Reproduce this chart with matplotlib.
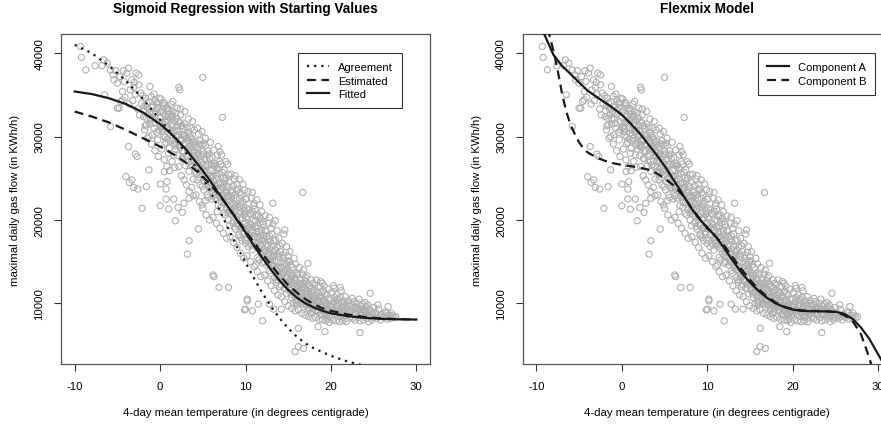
import matplotlib
matplotlib.use("Agg")
import matplotlib.pyplot as plt

plt.rcParams['font.family'] = ['Liberation Sans', 'DejaVu Sans']
plt.rcParams['axes.unicode_minus'] = False

# observed points: 4-day mean temperature vs maximal daily gas flow
temp = [
    -9.3, -9.2, -8.7, -7.6, -6.8, -6.6, -6.2, -5.8, -5.4, -5.0,
    -4.4, -3.7, -2.8, -3.3, -5.8, -3.7, -2.7, -4.0, -3.3, -2.6,
    -1.6, -1.3, -4.4, -5.0, -6.5, -3.6, -3.1, -2.9, -2.1, -4.8,
    -5.5, -4.7, -4.2, -3.9, -3.5, -3.1, -2.9, -2.5, -2.3, -2.2,
    -4.6, -4.1, -3.6, -3.2, -2.6, -2.4, -2.0, -1.8, -1.2, -1.6,
    -2.5, -3.0, -4.3, -5.2,
    -1.9, -1.7, -1.5, -1.4, -1.3, -1.2, -1.1, -1.0, -0.9, -0.8,
    -0.7, -0.6, -0.5, -0.4, -0.3, -0.2, -0.1, 0.0, -1.8, -1.5,
    -1.0, -0.6, -0.3, -0.9, -1.6, -0.2, -0.7, -1.3, -0.4, -0.8,
    0.1, 0.2, 0.3, 0.4, 0.5, 0.6, 0.7, 0.8, 0.9, 1.0,
    1.1, 1.2, 1.3, 1.4, 1.5, 1.6, 1.7, 1.8, 1.9, 2.0,
    0.2, 0.5, 0.8, 1.1, 1.4, 1.7, 0.3, 0.6, 0.9, 1.2,
    1.5, 1.8, 0.4, 1.0, 1.6, 0.7, 1.3, 1.9, 0.1, 1.0,
    0.5, 1.5, 2.0,
    0.0, 0.8, 0.7, 0.7, 1.0, 1.8, 2.1, 1.6, 2.6, 3.2,
    3.4, 4.5, 5.0, 2.2, 2.3, 7.3, 0.0, 6.2, 6.3, 6.9,
    8.0,
    2.1, 2.2, 2.3, 2.4, 2.5, 2.6, 2.7, 2.8, 2.9, 3.0,
    3.1, 3.2, 3.3, 3.4, 3.5, 3.6, 3.7, 3.8, 3.9, 4.0,
    2.2, 2.5, 2.8, 3.1, 3.4, 3.7, 2.4, 2.9, 3.3, 3.8,
    2.3, 2.7, 3.0, 3.5, 3.9, 2.6, 3.2, 3.6, 2.1, 4.0,
    3.4, 2.8, 3.9,
    4.1, 4.2, 4.3, 4.4, 4.5, 4.6, 4.7, 4.8, 4.9, 5.0,
    5.1, 5.2, 5.3, 5.4, 5.5, 5.6, 5.7, 5.8, 5.9, 6.0,
    4.2, 4.6, 5.0, 5.4, 5.8, 4.4, 4.9, 5.3, 5.9, 4.3,
    4.8, 5.2, 5.7, 4.5, 5.1, 5.6, 6.0, 4.7, 5.5, 4.1,
    5.0, 5.8, 4.9, 5.3, 4.4,
    6.1, 6.2, 6.3, 6.4, 6.5, 6.6, 6.7, 6.8, 6.9, 7.0,
    7.1, 7.2, 7.3, 7.4, 7.5, 7.6, 7.7, 7.8, 7.9, 8.0,
    6.2, 6.6, 7.0, 7.4, 7.8, 6.3, 6.8, 7.2, 7.7, 6.4,
    6.9, 7.3, 7.8, 6.1, 6.5, 7.0, 7.5, 8.0, 6.7, 7.1,
    7.6, 6.0, 7.9, 6.8, 7.4,
    8.1, 8.2, 8.3, 8.4, 8.5, 8.6, 8.7, 8.8, 8.9, 9.0,
    9.1, 9.2, 9.3, 9.4, 9.5, 9.6, 9.7, 9.8, 9.9, 10.0,
    8.2, 8.6, 9.0, 9.4, 9.8, 8.3, 8.8, 9.3, 9.7, 8.4,
    8.9, 9.3, 9.8, 8.1, 8.5, 9.0, 9.5, 10.0, 8.7, 9.1,
    9.6, 8.0, 9.9, 8.8, 9.4, 9.2,
    10.1, 10.2, 10.3, 10.4, 10.5, 10.6, 10.7, 10.8, 10.9, 11.0,
    11.1, 11.2, 11.3, 11.4, 11.5, 11.6, 11.7, 11.8, 11.9, 12.0,
    10.2, 10.6, 11.0, 11.4, 11.8, 10.3, 10.8, 11.3, 11.7, 10.4,
    10.9, 11.3, 11.8, 10.1, 10.5, 11.0, 11.5, 12.0, 10.7, 11.1,
    11.6, 10.0, 11.9, 10.8, 11.4, 11.2,
    12.1, 12.2, 12.3, 12.4, 12.5, 12.6, 12.7, 12.8, 12.9, 13.0,
    13.1, 13.2, 13.3, 13.4, 13.5, 13.6, 13.7, 13.8, 13.9, 14.0,
    12.2, 12.6, 13.0, 13.4, 13.8, 12.3, 12.8, 13.2, 13.7, 12.4,
    12.9, 13.3, 13.8, 12.1, 12.5, 13.0, 13.5, 14.0, 12.7, 13.1,
    13.6, 12.0, 13.9, 12.8, 13.4, 13.2, 13.5,
    14.1, 14.2, 14.3, 14.4, 14.5, 14.6, 14.7, 14.8, 14.9, 15.0,
    15.1, 15.2, 15.3, 15.4, 15.5, 15.6, 15.7, 15.8, 15.9, 16.0,
    14.2, 14.6, 15.0, 15.4, 15.8, 14.3, 14.8, 15.2, 15.7, 14.4,
    14.9, 15.3, 15.8, 14.1, 14.5, 15.0, 15.5, 16.0, 14.7, 15.1,
    15.6, 14.0, 15.9, 14.8, 15.4, 14.6, 14.5,
    16.1, 16.2, 16.3, 16.4, 16.5, 16.6, 16.7, 16.8, 16.9, 17.0,
    17.1, 17.2, 17.3, 17.4, 17.5, 17.6, 17.7, 17.8, 17.9, 18.0,
    16.2, 16.6, 17.0, 17.4, 17.8, 16.3, 16.8, 17.2, 17.7, 16.4,
    16.9, 17.3, 17.8, 16.1, 16.5, 17.0, 17.5, 18.0, 16.7, 17.1,
    17.6, 16.0, 17.9, 16.8, 17.4, 17.3, 16.2,
    18.1, 18.2, 18.3, 18.4, 18.5, 18.6, 18.7, 18.8, 18.9, 19.0,
    19.1, 19.2, 19.3, 19.4, 19.5, 19.6, 19.7, 19.8, 19.9, 20.0,
    18.2, 18.6, 19.0, 19.4, 19.8, 18.3, 18.8, 19.2, 19.7, 18.4,
    18.9, 19.3, 19.8, 18.1, 18.5, 19.0, 19.5, 20.0, 18.7, 19.1,
    19.6, 19.3, 18.5, 20.3,
    20.1, 20.2, 20.3, 20.4, 20.5, 20.6, 20.7, 20.8, 20.9, 21.0,
    21.1, 21.2, 21.3, 21.4, 21.5, 21.6, 21.7, 21.8, 21.9, 22.0,
    20.2, 20.6, 21.0, 21.4, 21.8, 20.4, 21.2, 21.7, 20.8, 21.3,
    22.0, 20.0, 21.5, 20.9, 21.1,
    22.1, 22.2, 22.3, 22.4, 22.5, 22.6, 22.7, 22.8, 22.9, 23.0,
    23.1, 23.2, 23.3, 23.4, 23.5, 23.6, 23.7, 23.8, 23.9, 24.0,
    24.1, 24.2, 24.3, 24.4, 24.5, 24.6, 24.7, 24.8, 24.9, 25.0,
    22.5, 23.3, 24.0, 24.6, 23.4, 22.8, 23.7, 24.3, 25.0,
    25.2, 25.4, 25.6, 25.8, 26.0, 26.2, 26.4, 26.6, 26.8, 27.0,
    27.2, 27.4, 27.6, 26.7, 25.5, 25.9, 26.5, 27.1, 25.3, 25.7,
    15.8, 16.2, 16.8, 16.7, 10.0, 10.2, 10.8, 11.5, 12.0, 12.8,
    13.3, 14.2, 10.2, 9.9,
    # second pass over the dense band
    -1.95, -1.75, -1.55, -1.35, -1.15, -0.95, -0.75, -0.55, -0.35, -0.15,
    0.05, 0.25, 0.45, 0.65, 0.85, 1.05, 1.25, 1.45, 1.65, 1.85,
    0.15, 0.35, 0.55, 0.75, 0.95, 1.15, 1.35, 1.55, 1.75, 1.95,
    2.05, 2.25, 2.45, 2.65, 2.85, 3.05, 3.25, 3.45, 3.65, 3.85,
    2.15, 2.35, 2.55, 2.75, 2.95, 3.15, 3.35, 3.55, 3.75, 3.95,
    4.05, 4.25, 4.45, 4.65, 4.85, 5.05, 5.25, 5.45, 5.65, 5.85,
    4.15, 4.35, 4.55, 4.75, 4.95, 5.15, 5.35, 5.55, 5.75, 5.95,
    6.05, 6.25, 6.45, 6.65, 6.85, 7.05, 7.25, 7.45, 7.65, 7.85,
    6.15, 6.35, 6.55, 6.75, 6.95, 7.15, 7.35, 7.55, 7.75, 7.95,
    8.05, 8.25, 8.45, 8.65, 8.85, 9.05, 9.25, 9.45, 9.65, 9.85,
    8.15, 8.35, 8.55, 8.75, 8.95, 9.15, 9.35, 9.55, 9.75, 9.95,
    10.05, 10.25, 10.45, 10.65, 10.85, 11.05, 11.25, 11.45, 11.65, 11.85,
    10.15, 10.35, 10.55, 10.75, 10.95, 11.15, 11.35, 11.55, 11.75, 11.95,
    12.05, 12.25, 12.45, 12.65, 12.85, 13.05, 13.25, 13.45, 13.65, 13.85,
    12.15, 12.35, 12.55, 12.75, 12.95, 13.15, 13.35, 13.55, 13.75, 13.95,
    14.05, 14.25, 14.45, 14.65, 14.85, 15.05, 15.25, 15.45, 15.65, 15.85,
    14.15, 14.35, 14.55, 14.75, 14.95, 15.15, 15.35, 15.55, 15.75, 15.95,
    16.05, 16.25, 16.45, 16.65, 16.85, 17.05, 17.25, 17.45, 17.65, 17.85,
    16.15, 16.35, 16.55, 16.75, 16.95, 17.15, 17.35, 17.55, 17.75, 17.95,
    18.05, 18.25, 18.45, 18.65, 18.85, 19.05, 19.25, 19.45, 19.65, 19.85,
    18.15, 18.35, 18.55, 18.75, 18.95, 19.15, 19.35, 19.55, 19.75, 19.95,
    20.15, 20.45, 20.75, 21.05, 21.35, 21.65, 21.95, 22.25, 22.55, 22.85,
    23.15, 23.45, 23.75, 24.05, 24.35, 20.35, 21.25, 22.15, 23.05, 23.95,
]
flow = [
    40800, 39500, 38000, 38500, 38500, 39200, 38800, 38000, 36800, 36400,
    35400, 38200, 37600, 36800, 31200, 28800, 27600, 25200, 24800, 23700,
    24000, 26000, 34400, 33400, 35000, 24500, 23900, 27900, 21400, 33400,
    37400, 37200, 36600, 37600, 35600, 35900, 35100, 36200, 35200, 34000,
    34200, 34700, 33900, 34300, 33300, 32600, 34900, 33700, 36000, 32200,
    37400, 36500, 37900, 37900,
    33100, 34600, 33500, 32600, 34200, 31500, 33000, 34800, 32100, 33700,
    31000, 34400, 32700, 30500, 33500, 31800, 34600, 32300, 30800, 29800,
    29100, 28300, 29600, 30200, 31400, 27600, 35100, 30000, 33900, 32800,
    34500, 33200, 31600, 30100, 34000, 32400, 29300, 31100, 33400, 30400,
    28600, 32100, 33900, 29800, 31200, 27800, 30700, 32800, 29200, 31300,
    28500, 27200, 26400, 25900, 27000, 26300, 30900, 29900, 31900, 30800,
    33000, 28500, 32800, 32700, 29100, 33300, 31500, 30100, 31200, 28000,
    25800, 34200, 33400,
    24300, 24600, 23700, 22500, 21300, 19900, 21500, 22500, 20900, 15900,
    17500, 18900, 37100, 35900, 35600, 32300, 21700, 13400, 13200, 11900,
    11900,
    31800, 30200, 28700, 32600, 29500, 27300, 30900, 28200, 31500, 26500,
    29800, 27900, 30500, 25800, 28800, 31000, 27100, 29300, 24900, 28100,
    26400, 25300, 24800, 24200, 23400, 23900, 33300, 33000, 32100, 31800,
    29600, 29000, 30000, 26600, 27700, 31300, 28400, 29900, 27700, 30800,
    22600, 22000, 22900,
    29400, 27200, 25600, 28600, 30300, 26400, 24200, 27800, 29000, 25400,
    23600, 27300, 28900, 24900, 26600, 22700, 27900, 25300, 23800, 26600,
    23000, 22200, 21400, 20600, 20000, 31000, 30600, 29800, 29300, 27700,
    25900, 24600, 25600, 28000, 26000, 28300, 24400, 29500, 23000, 25800,
    28200, 27400, 21800, 22300, 26800,
    27500, 25300, 23800, 26400, 22600, 24900, 27800, 21700, 25600, 23500,
    26700, 22100, 24300, 20800, 26000, 23200, 25000, 21400, 24000, 22600,
    20300, 19600, 19000, 18400, 17800, 28400, 28800, 27800, 27000, 24100,
    22900, 25700, 23300, 24000, 26600, 28200, 22100, 25400, 21000, 24400,
    20600, 22500, 26700, 26100, 23800,
    24500, 22300, 20700, 23600, 19700, 21900, 24900, 18900, 22600, 20500,
    23700, 19300, 21600, 17900, 23000, 20300, 22200, 18600, 21100, 19700,
    18000, 17300, 16700, 16000, 15400, 25500, 25300, 24800, 24300, 21300,
    20000, 22600, 20600, 21200, 23300, 24300, 19100, 22500, 19200, 21500,
    17500, 20000, 23600, 23000, 20900, 18300,
    22500, 20100, 18200, 21200, 17200, 19500, 22600, 16400, 20000, 18000,
    21300, 16800, 19000, 15500, 20600, 17800, 19700, 16000, 18700, 17100,
    15700, 15000, 14400, 13800, 13200, 23400, 23300, 22400, 21800, 19000,
    17600, 20400, 18200, 18900, 20800, 22000, 16600, 19800, 17000, 19200,
    15200, 17200, 21000, 21000, 18000, 14600,
    19500, 17400, 15600, 18600, 14600, 16900, 19600, 13900, 17400, 15500,
    18300, 14200, 16200, 13100, 17600, 15000, 16700, 12800, 15600, 14100,
    13400, 12700, 12100, 11500, 11000, 20500, 20300, 19500, 18700, 16300,
    15000, 17500, 14300, 16100, 18000, 19000, 14000, 16900, 14900, 16800,
    12500, 14800, 17800, 18100, 15700, 22000, 19900,
    16200, 14300, 12800, 15400, 11800, 13800, 16100, 11200, 14100, 12600,
    15100, 11500, 13300, 10700, 14300, 12100, 13600, 10300, 12700, 11400,
    10800, 10200, 9700, 9400, 9100, 17200, 16800, 16200, 15400, 13400,
    12300, 14600, 11700, 13200, 14900, 15600, 11300, 13600, 12400, 13700,
    10000, 12000, 14700, 14700, 12700, 18800, 18300,
    13400, 11900, 10700, 12800, 10000, 11500, 13500, 9600, 11800, 10500,
    12600, 9700, 11100, 9200, 12000, 10300, 11400, 9000, 10800, 9800,
    9200, 8800, 8600, 8400, 8200, 14300, 14000, 13300, 12800, 11200,
    10300, 12300, 10100, 10900, 12300, 13100, 9400, 11600, 10400, 11200,
    8800, 9900, 12400, 12300, 10700, 14800, 7000,
    12200, 10600, 9600, 11400, 9100, 10300, 12000, 8800, 10700, 9500,
    11500, 8900, 10100, 8500, 11000, 9400, 10500, 8400, 9800, 9000,
    8300, 8100, 8000, 7900, 7700, 12800, 12600, 12100, 11700, 10000,
    9300, 11200, 9200, 9900, 11200, 12400, 8700, 10500, 9700, 10200,
    8100, 6600, 7200, 12100,
    11300, 9900, 9000, 10700, 8700, 9700, 11000, 8500, 10100, 9100,
    10700, 8600, 9600, 8300, 10300, 9000, 9900, 8200, 9400, 8800,
    8000, 7900, 7800, 7900, 7800, 11800, 11500, 10800, 10500, 9300,
    10000, 9500, 8500, 8900, 11900,
    10300, 9100, 8400, 9800, 8200, 9300, 10200, 8000, 9500, 8700,
    10000, 8300, 9200, 7900, 9700, 8600, 9300, 8000, 9000, 8500,
    9600, 8200, 8900, 7800, 9300, 8400, 9000, 8000, 8700, 8300,
    10600, 10500, 10100, 11200, 6500, 8900, 8800, 9800, 9500,
    8900, 8200, 9300, 8000, 8700, 8300, 9000, 8100, 8600, 8200,
    8500, 8300, 8400, 9600, 9800, 8500, 8800, 8800, 8600, 8400,
    4200, 4800, 4600, 23300, 9300, 10300, 9100, 9900, 7900, 9900,
    9300, 9300, 10500, 9200,
    # second pass over the dense band
    32400, 31300, 34000, 33300, 32100, 33500, 31600, 33100, 34100, 30800,
    32900, 30600, 33700, 31800, 29700, 33100, 30200, 32400, 31900, 30000,
    31100, 34100, 29100, 32000, 30900, 29500, 32600, 30500, 28900, 32200,
    30700, 29100, 31200, 28300, 30300, 27600, 29500, 30100, 28400, 26400,
    28900, 31700, 27400, 30100, 29200, 31100, 27000, 28600, 29700, 28900,
    27600, 28800, 26200, 25100, 26900, 27900, 25800, 25000, 26700, 24700,
    26300, 24800, 29100, 27200, 24000, 29200, 26400, 27700, 23900, 25900,
    25200, 24600, 23000, 26200, 24400, 22700, 23900, 25100, 21900, 22800,
    22900, 26800, 25300, 23400, 27000, 21500, 22900, 24700, 23600, 20900,
    22900, 21100, 22100, 20400, 21700, 19500, 20700, 21800, 19000, 18300,
    19300, 22700, 24100, 21300, 23500, 18100, 23300, 20100, 21500, 17600,
    20300, 19300, 18100, 20700, 18800, 17200, 18500, 19300, 16900, 17600,
    21400, 16800, 19100, 17900, 21700, 19900, 17100, 18600, 20200, 15800,
    17800, 16200, 17100, 15200, 16500, 14700, 15800, 16400, 14000, 13500,
    15000, 18800, 16000, 17700, 13600, 15200, 14500, 12800, 15900, 13100,
    14900, 13500, 12600, 14000, 13100, 11900, 12900, 13400, 11300, 10900,
    12200, 15800, 13800, 11700, 15000, 12300, 11100, 12500, 13000, 10100,
    12100, 11300, 10600, 12000, 10900, 9900, 11500, 10200, 9700, 10400,
    10300, 12400, 11800, 9900, 12700, 10800, 10000, 11000, 11900, 9300,
    10400, 9800, 9000, 10800, 9500, 10400, 9300, 9900, 8900, 9600,
    11000, 9200, 10300, 8600, 11300, 9100, 9600, 10000, 9000, 8700,
    9600, 9300, 9800, 8800, 9100, 9500, 8600, 9000, 8800, 9600,
    9100, 8700, 9900, 9000, 8600, 10200, 10100, 9700, 9400, 9200,
]
assert len(temp) == len(flow)

# sigmoid regression curves
fit_x = [-10, -8, -6, -4, -2, 0, 1, 2, 3, 4, 5, 6, 7, 8, 9, 10, 11, 12, 13, 14,
         15, 16, 17, 18, 19, 20, 22, 24, 26, 28, 30]
fitted = [35400, 35100, 34600, 33900, 32900, 31500, 30600, 29600, 28500, 27200,
          25900, 24500, 23000, 21500, 20000, 18500, 16900, 15400, 14000, 12700,
          11600, 10700, 10000, 9500, 9100, 8800, 8450, 8250, 8130, 8080, 8050]
estimated = [33000, 32400, 31700, 30800, 29800, 28800, 28200, 27600, 26900, 26100,
             25200, 24100, 22900, 21500, 20100, 18700, 17300, 15900, 14600, 13300,
             12200, 11300, 10500, 9900, 9400, 9100, 8650, 8350, 8180, 8100, 8050]
agree_x = [-10, -8, -6, -4, -2, 0, 1, 2, 3, 4, 5, 6, 7, 8, 9, 10, 11, 12, 13, 14,
           15, 16, 17, 18, 20, 22, 24, 26]
agreement = [41000, 40000, 38500, 36700, 34500, 32000, 30800, 29500, 28100, 26600,
             25000, 23200, 21100, 18900, 16800, 14900, 13000, 11200, 9600, 8200,
             7000, 6000, 5200, 4600, 3700, 3000, 2500, 2100]

# flexmix components
compA_x = [-9.5, -9, -8, -7, -6, -5, -4, -3, -2, -1, 0, 1, 2, 3, 4, 5, 6, 7, 8, 9,
           10, 11, 12, 13, 14, 15, 16, 17, 18, 19, 20, 21, 22, 23, 24, 25, 26, 27,
           28, 29, 30, 30.5]
compA = [43400, 42100, 39800, 38500, 37500, 36500, 35500, 34800, 34100, 33400,
         32600, 31600, 30500, 29200, 27900, 26500, 24900, 23300, 21600, 20200,
         19100, 18000, 16600, 15100, 13700, 12500, 11500, 10650, 10000, 9550,
         9250, 9100, 9050, 9040, 9030, 8980, 8750, 8150, 7100, 5700, 3900, 3000]
compB_x = [-8.6, -8.5, -8, -7.5, -7, -6.5, -6, -5.5, -5, -4.5, -4, -3, -2, -1, 0,
           1, 2, 3, 4, 5, 6, 7, 8, 9, 10, 11, 12, 13, 14, 15, 16, 17, 18, 19, 20,
           21, 22, 23, 24, 25, 26, 27, 28, 29, 29.5]
compB = [43000, 42300, 40300, 37900, 35200, 33000, 31400, 30300, 29300, 28600,
         28100, 27500, 27100, 26800, 26600, 26450, 26300, 26050, 25650, 25000,
         24200, 23100, 21700, 20300, 19000, 18000, 16900, 15500, 14100, 12800,
         11700, 10800, 10100, 9600, 9300, 9150, 9100, 9080, 9050, 8950, 8600,
         7900, 6300, 3400, 1500]

fig = plt.figure(figsize=(8.81, 4.27), dpi=100)
W, H = 881, 427
ax1 = fig.add_axes([61 / W, 62 / H, 369 / W, 330 / H])
ax2 = fig.add_axes([522.7 / W, 62 / H, 369 / W, 330 / H])

pts = dict(s=20, facecolors='none', edgecolors='#b0b0b0', linewidths=0.8, zorder=1)
line = dict(color='#1a1a1a', lw=1.6, zorder=3)

ax1.scatter(temp, flow, **pts)
ax1.plot(agree_x, agreement, dashes=(1, 2.2), label='Agreement', **line)
ax1.plot(fit_x, estimated, dashes=(4, 2.5), label='Estimated', **line)
ax1.plot(fit_x, fitted, label='Fitted', **line)
ax1.set_title('Sigmoid Regression with Starting Values', fontsize=9.8,
              fontweight='bold', pad=16)

ax2.scatter(temp, flow, **pts)
ax2.plot(compA_x, compA, label='Component A', **line)
ax2.plot(compB_x, compB, dashes=(4, 2.5), label='Component B', **line)
ax2.set_title('Flexmix Model', fontsize=9.8, fontweight='bold', pad=16)

for ax, anchor in ((ax1, (0.924, 0.9415)), (ax2, (0.955, 0.9415))):
    ax.set_xlim(-11.6, 31.6)
    ax.set_ylim(2720, 42300)
    ax.set_xticks([-10, 0, 10, 20, 30])
    ax.set_yticks([10000, 20000, 30000, 40000])
    ax.tick_params(direction='out', length=5, width=0.8, color='#333333',
                   labelsize=8.2, pad=7)
    for lbl in ax.get_yticklabels():
        lbl.set_rotation(90)
        lbl.set_va('center')
    for sp in ax.spines.values():
        sp.set_color('#555555')
        sp.set_linewidth(0.9)
    ax.set_xlabel('4-day mean temperature (in degrees centigrade)', fontsize=8.2,
                  labelpad=12)
    ax.set_ylabel('maximal daily gas flow (in KWh/h)', fontsize=8.2, labelpad=10)
    leg = ax.legend(loc='upper right', bbox_to_anchor=anchor, fontsize=8,
                    fancybox=False, framealpha=1, edgecolor='#333333',
                    handlelength=2.0, handletextpad=0.8, borderpad=0.8,
                    labelspacing=0.31, borderaxespad=0)
    leg.get_frame().set_linewidth(0.8)

fig.savefig('out.png', dpi=100)
